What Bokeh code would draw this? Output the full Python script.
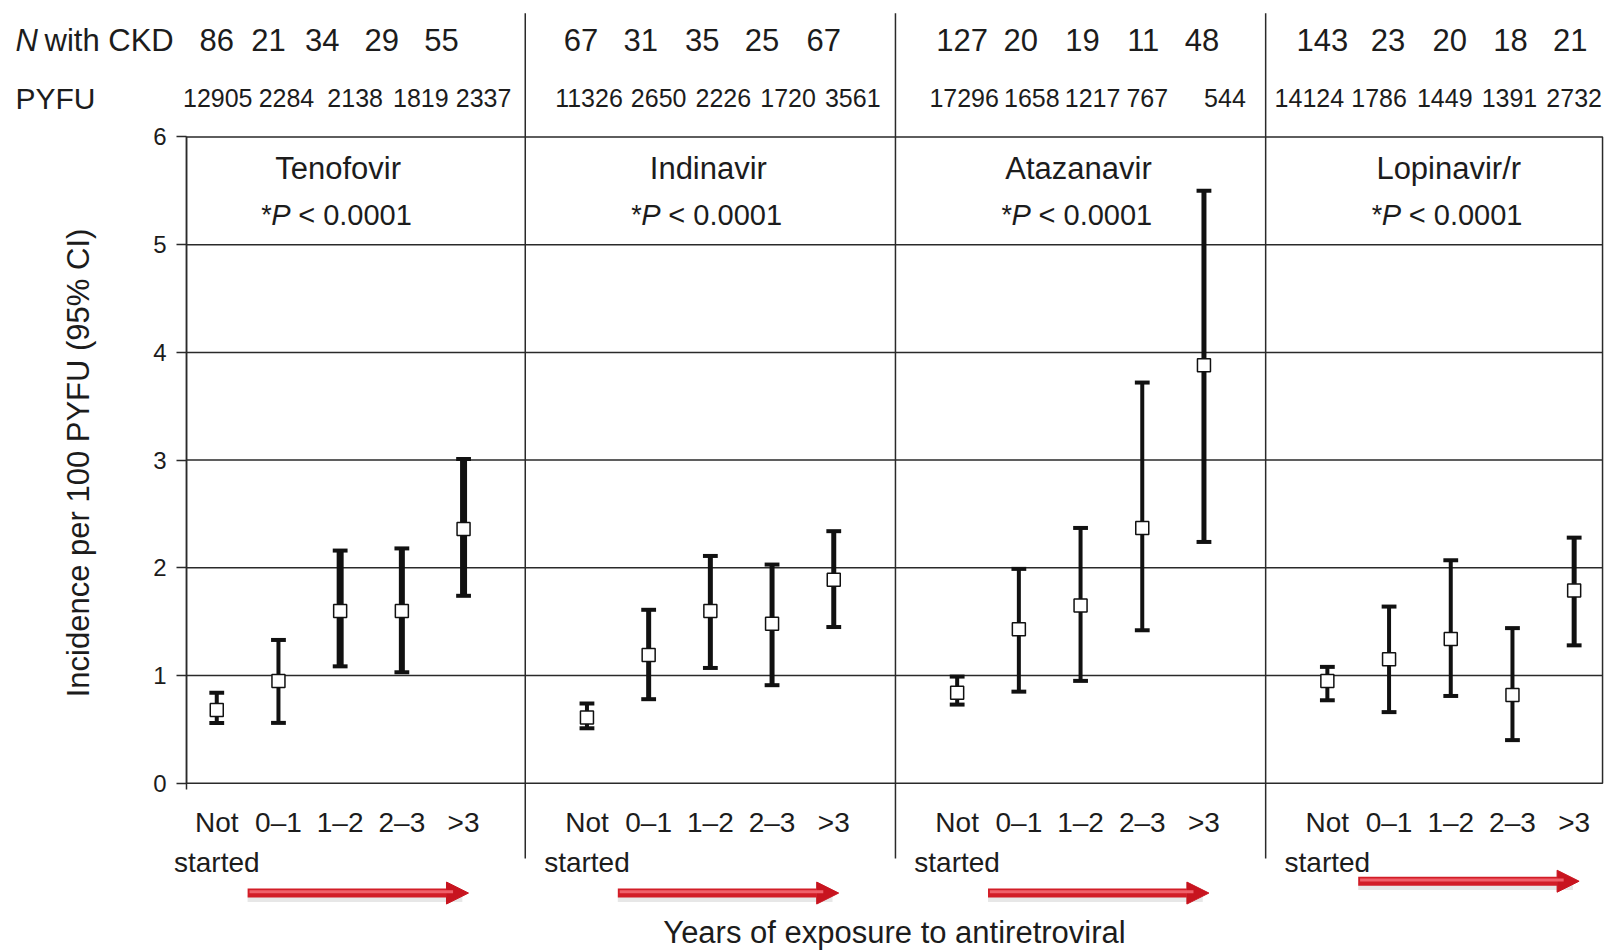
from bokeh.plotting import figure
from bokeh.models import (Range1d, FixedTicker, Label, LabelSet, ColumnDataSource,
                          Arrow, NormalHead)
from bokeh.core.properties import value
from bokeh.embed import file_html
from bokeh.resources import INLINE

# ---------------- data ----------------
drugs = ["Tenofovir", "Indinavir", "Atazanavir", "Lopinavir/r"]
p_text = ["< 0.0001", "< 0.0001", "< 0.0001", "< 0.0001"]
categories = ["Not\nstarted", "0\u20131", "1\u20132", "2\u20133", ">3"]
n_ckd = [[86, 21, 34, 29, 55],
         [67, 31, 35, 25, 67],
         [127, 20, 19, 11, 48],
         [143, 23, 20, 18, 21]]
pyfu = [[12905, 2284, 2138, 1819, 2337],
        [11326, 2650, 2226, 1720, 3561],
        [17296, 1658, 1217, 767, 544],
        [14124, 1786, 1449, 1391, 2732]]
incidence = [[0.68, 0.95, 1.60, 1.60, 2.36],
             [0.61, 1.19, 1.60, 1.48, 1.89],
             [0.84, 1.43, 1.65, 2.37, 3.88],
             [0.95, 1.15, 1.34, 0.82, 1.79]]
ci_lower = [[0.56, 0.56, 1.085, 1.03, 1.74],
            [0.51, 0.78, 1.07, 0.91, 1.45],
            [0.73, 0.85, 0.95, 1.42, 2.24],
            [0.77, 0.66, 0.81, 0.40, 1.28]]
ci_upper = [[0.84, 1.33, 2.16, 2.18, 3.01],
            [0.74, 1.61, 2.11, 2.03, 2.34],
            [0.99, 1.99, 2.37, 3.72, 5.50],
            [1.08, 1.64, 2.07, 1.44, 2.28]]
y_ticks = [0, 1, 2, 3, 4, 5, 6]
x_title = "Years of exposure to antiretroviral"
y_title = "Incidence per 100 PYFU (95% CI)"

# ---------------- style / layout ----------------
FONT = "Liberation Sans"
TXT = "#1c1c1c"
LINE = "#2a2a2a"
bar_widths = [[4, 4, 7, 6, 7], [4, 5, 5, 5, 5], [4, 4, 4, 4, 5], [4, 4, 4, 4, 5]]
n_offsets = [[0, -10, -18, -20, -22], [-6, -8, -8, -10, -10], [5, 2, 2, 1, -2], [-5, -1, -1, -2, -4]]
pyfu_offsets = [[1, 8, 15, 19, 20], [2, 10, 13, 16, 19], [7, 13, 12, 5, 21], [-18, -10, -6, -3, 0]]
arrow_y = [-1.02, -1.02, -1.02, -0.91]
SLOT = 6
CAP = 0.12
XL, XR = -0.49, 22.46          # plot box edges (x)

n_p = len(drugs)
n_c = len(categories)
xs = [[SLOT * p + i for i in range(n_c)] for p in range(n_p)]

fx, finc, flo, fhi, fw = [], [], [], [], []
for p in range(n_p):
    for i in range(n_c):
        fx.append(xs[p][i]); finc.append(incidence[p][i])
        flo.append(ci_lower[p][i]); fhi.append(ci_upper[p][i])
        fw.append(bar_widths[p][i])
src = ColumnDataSource(dict(x=fx, inc=finc, lo=flo, hi=fhi,
                            xl=[v - CAP for v in fx], xr=[v + CAP for v in fx], w=fw))

p = figure(width=1610, height=950, x_range=Range1d(-3.505, 22.589), y_range=Range1d(-1.5534, 7.2674),
           output_backend="svg", toolbar_location=None, min_border=0)
p.background_fill_color = "white"
p.border_fill_color = "white"
p.outline_line_color = None
p.grid.visible = False

# plot box and horizontal grid
p.quad(left=XL, right=XR, bottom=y_ticks[0], top=y_ticks[-1], fill_color=None,
       line_color=LINE, line_width=1.5)
gy = y_ticks[1:-1]
p.segment(x0=[XL] * len(gy), y0=gy, x1=[XR] * len(gy), y1=gy, line_color=LINE, line_width=1.5)

# y axis (drawn at the left edge of the plot box)
p.yaxis.fixed_location = XL
p.yaxis.bounds = (y_ticks[0] - 0.06, y_ticks[-1])
p.yaxis.ticker = FixedTicker(ticks=y_ticks)
p.yaxis.axis_label = y_title
p.yaxis.axis_label_text_font = FONT
p.yaxis.axis_label_text_font_size = "31px"
p.yaxis.axis_label_text_font_style = "normal"
p.yaxis.axis_label_text_color = TXT
p.yaxis.axis_label_standoff = 54
p.yaxis.major_label_text_font = FONT
p.yaxis.major_label_text_font_size = "24px"
p.yaxis.major_label_text_color = TXT
p.yaxis.major_label_standoff = 10
p.yaxis.major_tick_out = 10
p.yaxis.major_tick_in = 0
p.yaxis.minor_tick_line_color = None
p.yaxis.axis_line_color = LINE
p.yaxis.axis_line_width = 1.5
p.yaxis.major_tick_line_color = LINE
p.yaxis.major_tick_line_width = 1.5

# x axis (at y = 0)
p.xaxis.fixed_location = y_ticks[0]
p.xaxis.bounds = (XL, XR)
p.xaxis.ticker = FixedTicker(ticks=fx)
p.xaxis.major_label_overrides = {fx[k]: categories[k % n_c] for k in range(len(fx))}
p.xaxis.major_label_text_font = FONT
p.xaxis.major_label_text_font_size = "28px"
p.xaxis.major_label_text_color = TXT
p.xaxis.major_label_text_line_height = 1.28
p.xaxis.major_label_standoff = 18
p.xaxis.major_tick_line_color = None
p.xaxis.minor_tick_line_color = None
p.xaxis.axis_line_color = None
p.xaxis.axis_label = x_title
p.xaxis.axis_label_text_font = FONT
p.xaxis.axis_label_text_font_size = "31px"
p.xaxis.axis_label_text_font_style = "normal"
p.xaxis.axis_label_text_color = TXT
p.xaxis.axis_label_standoff = 34

# error bars
p.segment(x0="x", y0="lo", x1="x", y1="hi", line_width="w", line_color="#111111", source=src)
p.segment(x0="xl", y0="hi", x1="xr", y1="hi", line_width=4, line_color="#111111", source=src)
p.segment(x0="xl", y0="lo", x1="xr", y1="lo", line_width=4, line_color="#111111", source=src)
p.scatter(x="x", y="inc", marker="square", size=13, fill_color="white",
          line_color="#111111", line_width=1.5, source=src)

# panel dividers (between last category of one panel and first of next)
for k in range(n_p - 1):
    d = (xs[k][-1] + xs[k + 1][0]) / 2
    p.add_layout(Arrow(x_start=d, y_start=-0.70, x_end=d, y_end=7.15, end=None,
                       line_color=LINE, line_width=1.5))

# header rows
row_n_y, row_pyfu_y = 6.9, 6.36
p.add_layout(Label(x=XL, y=row_n_y, x_offset=-171, text="N", text_font=FONT,
                   text_font_size="31px", text_font_style="italic", text_color=TXT,
                   text_baseline="middle", text_align="left"))
p.add_layout(Label(x=XL, y=row_n_y, x_offset=-142, text="with CKD", text_font=FONT,
                   text_font_size="31px", text_color=TXT,
                   text_baseline="middle", text_align="left"))
p.add_layout(Label(x=XL, y=row_pyfu_y, x_offset=-171, text="PYFU", text_font=FONT,
                   text_font_size="30px", text_color=TXT,
                   text_baseline="middle", text_align="left"))

hdr_x, hdr_n, hdr_p, hdr_no, hdr_po = [], [], [], [], []
for pi in range(n_p):
    for i in range(n_c):
        hdr_x.append(xs[pi][i])
        hdr_n.append(str(n_ckd[pi][i]))
        hdr_p.append(str(pyfu[pi][i]))
        hdr_no.append(n_offsets[pi][i])
        hdr_po.append(pyfu_offsets[pi][i])
hsrc = ColumnDataSource(dict(x=hdr_x, yn=[row_n_y] * len(hdr_x), yp=[row_pyfu_y] * len(hdr_x),
                             n=hdr_n, pf=hdr_p, no=hdr_no, po=hdr_po))
p.add_layout(LabelSet(x="x", y="yn", text="n", source=hsrc, text_font=value(FONT),
                      text_font_size=value("31px"), text_color=TXT, text_align="center",
                      text_baseline="middle", x_offset="no"))
p.add_layout(LabelSet(x="x", y="yp", text="pf", source=hsrc, text_font=value(FONT),
                      text_font_size=value("25px"), text_color=TXT, text_align="center",
                      text_baseline="middle", x_offset="po"))

# panel titles and P values
for pi in range(n_p):
    cx = xs[pi][n_c // 2]
    p.add_layout(Label(x=cx, y=5.71, x_offset=-2, text=drugs[pi], text_font=FONT,
                       text_font_size="31px", text_color=TXT, text_align="center",
                       text_baseline="middle"))
    p.add_layout(Label(x=cx, y=5.28, x_offset=-79, text="*", text_font=FONT,
                       text_font_size="27px", text_color=TXT, text_align="left",
                       text_baseline="middle"))
    p.add_layout(Label(x=cx, y=5.28, x_offset=-69, text="P", text_font=FONT,
                       text_font_size="29px", text_font_style="italic", text_color=TXT,
                       text_align="left", text_baseline="middle"))
    p.add_layout(Label(x=cx, y=5.28, x_offset=-42, text=p_text[pi], text_font=FONT,
                       text_font_size="29px", text_color=TXT, text_align="left",
                       text_baseline="middle"))

# red arrows: increasing exposure
for pi in range(n_p):
    xa, xb = xs[pi][0] + 0.5, xs[pi][-1] + 0.08
    ya = arrow_y[pi]
    p.add_layout(Arrow(x_start=xa, y_start=ya - 0.05, x_end=xb - 0.1, y_end=ya - 0.05, end=None,
                       line_color="#bbbbbb", line_alpha=0.35, line_width=7))
    p.add_layout(Arrow(x_start=xa, y_start=ya, x_end=xb, y_end=ya,
                       end=NormalHead(size=22, fill_color="#c8141f", line_color="#c8141f",
                                      line_width=1),
                       line_color="#d21d27", line_width=9))
    p.add_layout(Arrow(x_start=xa + 0.03, y_start=ya + 0.012, x_end=xb - 0.25, y_end=ya + 0.012,
                       end=None, line_color="#f0606a", line_width=3))

open("out.html", "w").write(file_html(p, INLINE))
